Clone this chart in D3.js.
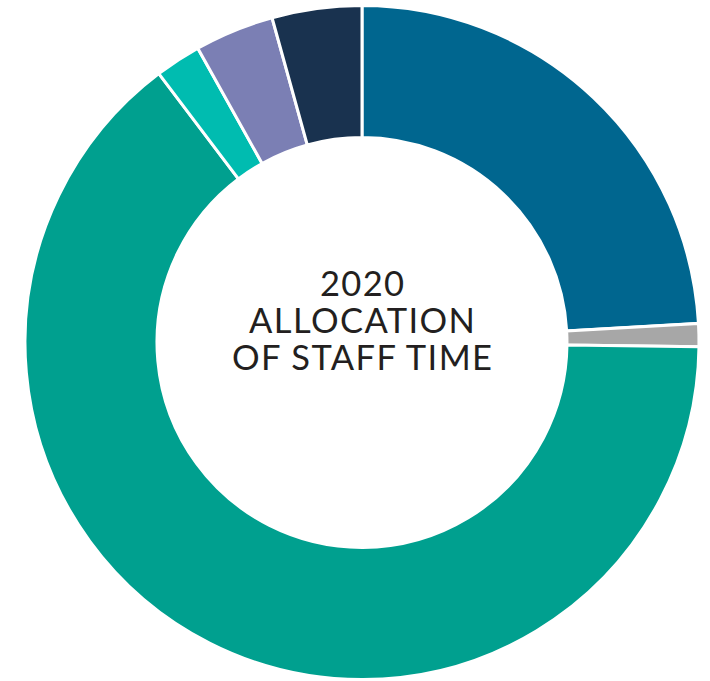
<!DOCTYPE html>
<html><head><meta charset="utf-8">
<script src="https://cdn.jsdelivr.net/npm/d3@7"></script>
<style>html,body{margin:0;padding:0;background:#fff;}</style>
</head><body>
<svg id="c" width="710" height="681"></svg>
<script>
const categories = ["Category A","Category B","Category C","Category D","Category E","Category F"];
const values = [24.1, 1.1, 64.5, 2.2, 3.8, 4.3];
const colors = ["#00668f","#a7a7a7","#00a08f","#00bcb0","#7b7fb4","#19324f"];
const titleLines = ["2020","ALLOCATION","OF STAFF TIME"];

const svg = d3.select("#c");
const cx = 362, cy = 342.5, R = 337, r = 205;
const g = svg.append("g").attr("transform",`translate(${cx},${cy})`);
const pie = d3.pie().sort(null).value(d=>d)(values);
const arc = d3.arc().innerRadius(r).outerRadius(R);
const color = d3.scaleOrdinal().domain(categories).range(colors);
g.selectAll("path").data(pie).join("path")
  .attr("d",arc)
  .attr("fill",(d,i)=>color(categories[i]))
  .attr("stroke","#fff").attr("stroke-width",3).attr("stroke-linejoin","miter");
g.selectAll("text").data(titleLines).join("text")
  .attr("x",0.7).attr("y",(d,i)=>-47+i*37)
  .attr("text-anchor","middle")
  .attr("font-family","Lato, sans-serif")
  .attr("font-size",34.5)
  .attr("letter-spacing",1.4)
  .attr("fill","#231f20")
  .text(d=>d);
</script>
</body></html>
